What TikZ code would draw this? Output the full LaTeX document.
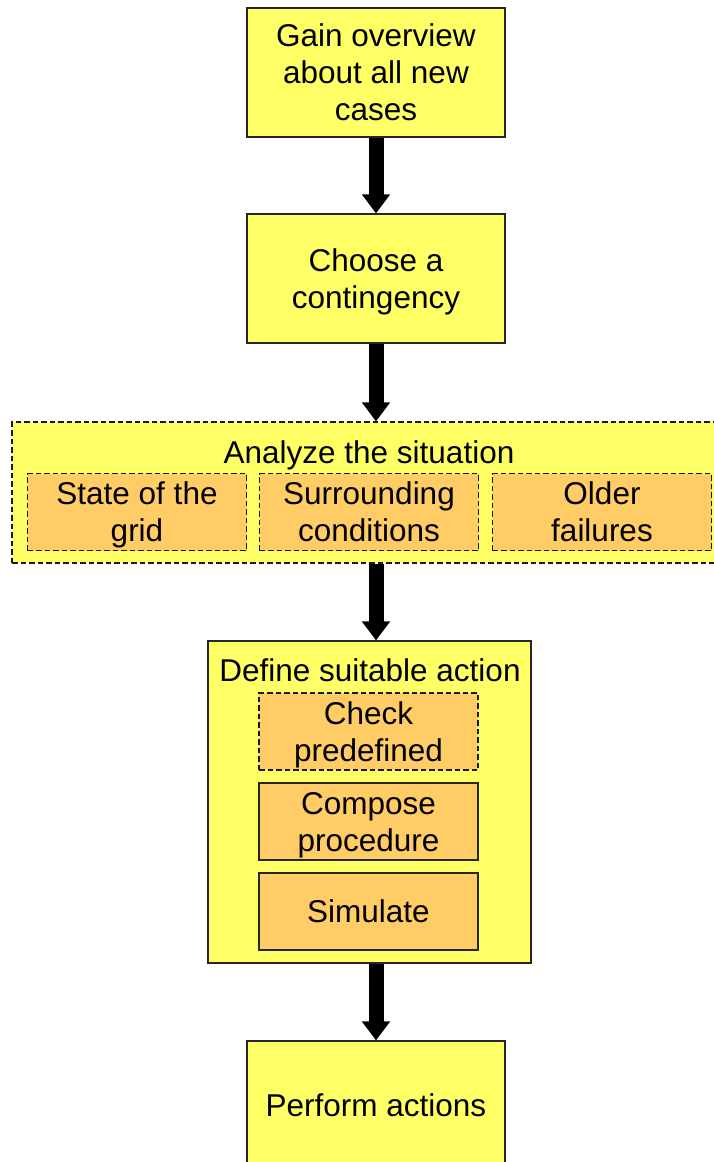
\documentclass[tikz,border=0pt]{standalone}
\usepackage{fontspec}
\setmainfont{Liberation Sans}
\usepackage{tikz}
\usetikzlibrary{arrows.meta, positioning}
\definecolor{stepyellow}{HTML}{FFFF66}
\definecolor{suborange}{HTML}{FFCC66}

\begin{document}
\begin{tikzpicture}[x=1pt, y=-1pt,
    every node/.style={font=\fontsize{31.5}{37}\selectfont, align=center, inner sep=0pt, text depth=0pt},
    stepbox/.style={draw=black!85, line width=1.1pt, fill=stepyellow, minimum width=258pt, minimum height=129pt},
    groupbox/.style={draw=black!85, line width=1.1pt, fill=stepyellow},
    subbox/.style={draw=black!85, line width=1.1pt, fill=suborange, minimum width=219pt, minimum height=77pt},
    dashbox/.style={draw=black!90, dash pattern=on 5.5pt off 3pt},
    bigarrow/.style={line width=15pt, -{Triangle[width=27pt, length=19pt]}}
]
\useasboundingbox (0,0) rectangle (714,1162);
\node[stepbox] (gain) at (376,72.5) {Gain overview\\about all new\\cases};
\node[stepbox] (choose) at (376,278.5) {Choose a\\contingency};

\node[groupbox, dashbox, minimum width=716pt, minimum height=141pt] (analyze) at (370,492.5) {};
\node (analyzetitle) at (369,452) {Analyze the situation};
\node[subbox, dashbox] (grid) at (137,512) {State of the\\grid};
\node[subbox, dashbox] (surround) at (369,512) {Surrounding\\conditions};
\node[subbox, dashbox] (older) at (602,512) {Older\\failures};

\node[groupbox, minimum width=323pt, minimum height=322pt] (define) at (369.5,802) {};
\node (definetitle) at (370,670) {Define suitable action};
\node[subbox, dashbox] (check) at (368.5,731.5) {Check\\predefined};
\node[subbox] (compose) at (368.5,821.5) {Compose\\procedure};
\node[subbox] (simulate) at (368.5,911.5) {Simulate};

\node[stepbox] (perform) at (376,1105.5) {Perform actions};

\draw[bigarrow] (gain) -- (choose);
\draw[bigarrow] (choose) -- (choose |- analyze.north);
\draw[bigarrow] (choose |- analyze.south) -- (choose |- define.north);
\draw[bigarrow] (choose |- define.south) -- (perform);
\end{tikzpicture}
\end{document}
